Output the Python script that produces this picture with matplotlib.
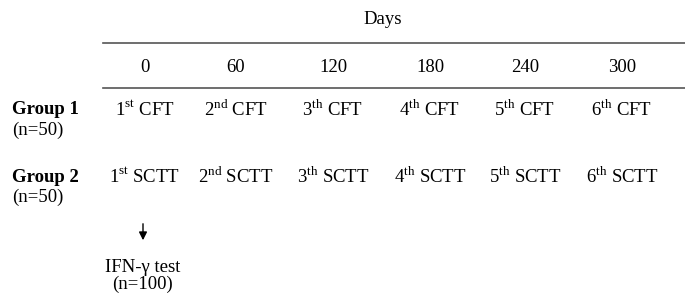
import matplotlib.pyplot as plt

plt.rcParams['font.family'] = ['Liberation Serif', 'DejaVu Serif']
plt.rcParams['mathtext.fontset'] = 'custom'
plt.rcParams['mathtext.rm'] = 'Liberation Serif'

DAYS = ['0', '60', '120', '180', '240', '300']
ORDINALS = ['st', 'nd', 'th', 'th', 'th', 'th']
GROUPS = ['Group 1', 'Group 2']
GROUP_N = ['(n=50)', '(n=50)']
TESTS = ['CFT', 'SCTT']
FOLLOWUP = 'IFN-\u03b3 test\n(n=100)'

COL_X = [145, 236, 333, 430, 525, 622]
ROW_Y = [110, 177]
FS = 13.5

fig = plt.figure(figsize=(6.85, 3.0), dpi=100)
ax = fig.add_axes([0, 0, 1, 1])
ax.set_xlim(0, 685)
ax.set_ylim(300, 0)
ax.axis('off')

ax.text(383, 20, 'Days', ha='center', va='center', fontsize=FS)
ax.plot([103, 685], [43, 43], color='#555555', lw=1.2)
ax.plot([103, 685], [88, 88], color='#555555', lw=1.2)

for x, d in zip(COL_X, DAYS):
    ax.text(x, 67, d, ha='center', va='center', fontsize=FS)

for y, g, n, test in zip(ROW_Y, GROUPS, GROUP_N, TESTS):
    ax.text(12, y, g, ha='left', va='center', fontsize=FS, fontweight='bold')
    ax.text(12, y + 20, n, ha='left', va='center', fontsize=FS)
    for i, (x, o) in enumerate(zip(COL_X, ORDINALS)):
        label = r'%d$^{\mathrm{%s}}$ %s' % (i + 1, o, test)
        ax.text(x, y, label, ha='center', va='center', fontsize=FS)

ax.annotate('', xy=(143, 243), xytext=(143, 221),
            arrowprops=dict(arrowstyle='-|>', color='black', lw=1,
                            mutation_scale=12))
ax.text(143, 276, FOLLOWUP, ha='center', va='center', fontsize=FS,
        linespacing=1.05)

fig.savefig('out.png', dpi=100)
